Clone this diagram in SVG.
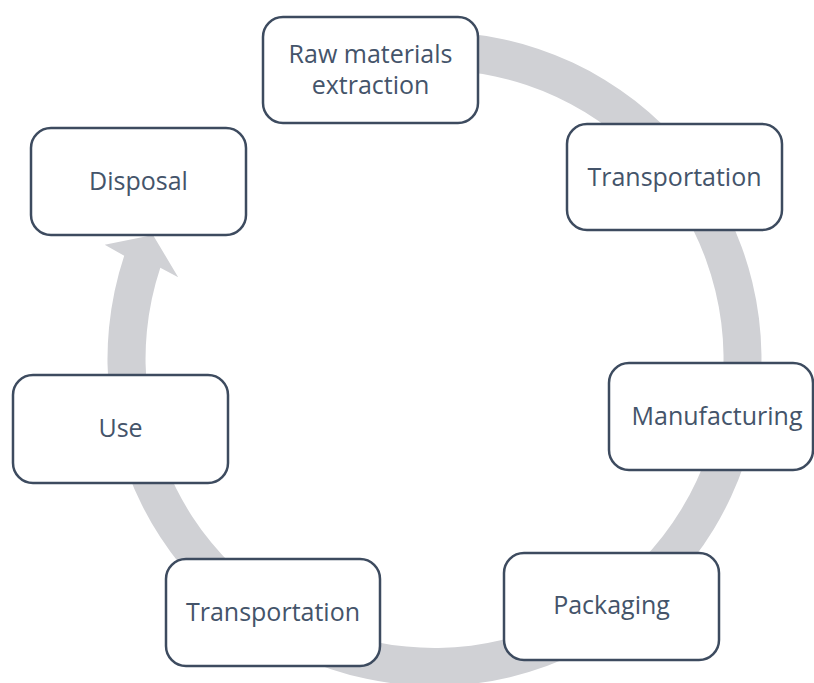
<svg xmlns="http://www.w3.org/2000/svg" width="814" height="683" viewBox="0 0 814 683">
<style>
.box{fill:#ffffff;stroke:#3d4b5f;stroke-width:2.5}
.lbl{font-family:"Open Sans","Noto Sans","DejaVu Sans",sans-serif;font-size:25px;fill:#44546a;text-anchor:middle}
.ring{fill:#d0d1d5;stroke:none}
</style>
<rect width="814" height="683" fill="#ffffff"/>
<g id="connectors">
<path class="ring" d="M322.7,51.7 A327,327 0 1 1 124.2,255.8 L104.7,244.8 L153,235 L178.2,277.2 L160.3,267.8 A289,289 0 1 0 335.7,87.4 Z"/>
</g>
<g id="n1"><rect class="box" x="263" y="17" width="215" height="106" rx="20"/><text class="lbl" x="370.5" y="63">Raw materials</text><text class="lbl" x="370.5" y="94">extraction</text></g>
<g id="n2"><rect class="box" x="567" y="124" width="215" height="106" rx="20"/><text class="lbl" x="674.5" y="186">Transportation</text></g>
<g id="n3"><rect class="box" x="609" y="363" width="204" height="107" rx="20"/><text class="lbl" x="717" y="425">Manufacturing</text></g>
<g id="n4"><rect class="box" x="504" y="553" width="215" height="107" rx="20"/><text class="lbl" x="611.5" y="614">Packaging</text></g>
<g id="n5"><rect class="box" x="166" y="559" width="214" height="107" rx="20"/><text class="lbl" x="273" y="621">Transportation</text></g>
<g id="n6"><rect class="box" x="13" y="375" width="215" height="108" rx="20"/><text class="lbl" x="120.5" y="437">Use</text></g>
<g id="n7"><rect class="box" x="31" y="128" width="215" height="107" rx="20"/><text class="lbl" x="138.5" y="190">Disposal</text></g>
</svg>
